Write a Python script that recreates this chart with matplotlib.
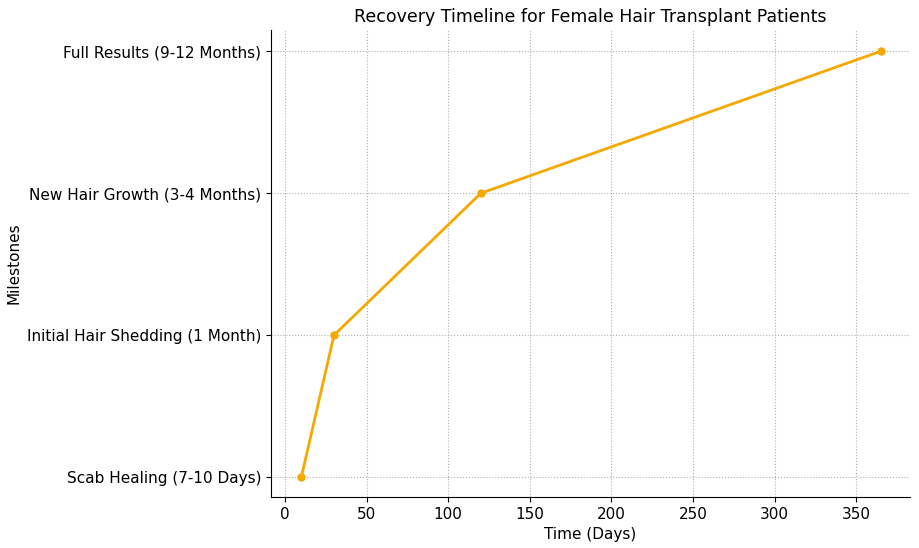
import matplotlib
matplotlib.use("Agg")
import matplotlib.pyplot as plt

milestones = ["Scab Healing (7-10 Days)", "Initial Hair Shedding (1 Month)",
              "New Hair Growth (3-4 Months)", "Full Results (9-12 Months)"]
days = [10, 30, 120, 365]

fig = plt.figure(figsize=(9.19, 5.48), dpi=100)
ax = fig.add_axes([271/919, 1-497/548, (910-271)/919, (497-30)/548])
ax.plot(days, milestones, color="#f5a800", marker="o", markersize=5, linewidth=2)
ax.set_xlim(-8.6, 383)
ax.set_ylim(-0.14, 3.15)
ax.set_xticks([0, 50, 100, 150, 200, 250, 300, 350])
ax.grid(True, linestyle=":", color="#b0b0b0", linewidth=0.8)
ax.set_axisbelow(True)
for s in ["top", "right"]:
    ax.spines[s].set_visible(False)
ax.tick_params(labelsize=11)
ax.set_xlabel("Time (Days)", fontsize=11)
ax.set_ylabel("Milestones", fontsize=11)
ax.set_title("Recovery Timeline for Female Hair Transplant Patients", fontsize=12.5)
fig.savefig("out.png", dpi=100)
